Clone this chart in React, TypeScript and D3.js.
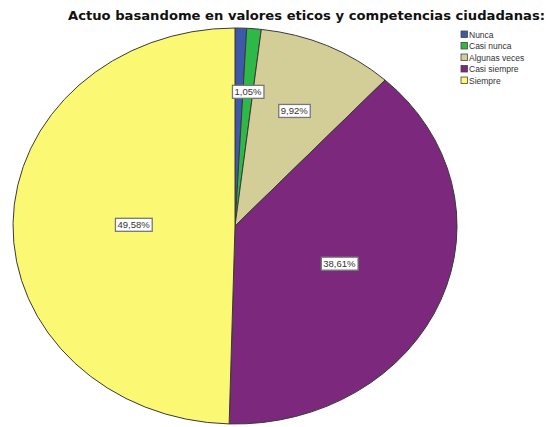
import React, { useEffect, useRef } from 'react';
import * as d3 from 'd3';

const categories = ['Nunca', 'Casi nunca', 'Algunas veces', 'Casi siempre', 'Siempre'];
const percents = [0.84, 1.05, 9.92, 38.61, 49.58];
const labels = ['', '1,05%', '9,92%', '38,61%', '49,58%'];
const colors = ['#3E58AC', '#2EB848', '#D3CE97', '#7C287D', '#FBF873'];
const title = 'Actuo basandome en valores eticos y competencias ciudadanas:';

const W = 548;
const H = 427;

export default function App() {
  const svgRef = useRef<SVGSVGElement>(null);

  useEffect(() => {
    const svg = d3.select(svgRef.current);
    svg.selectAll('*').remove();

    // pie is stretched horizontally in the original export
    const cx = 235;
    const cy = 226;
    const ry = 198;
    const rx = 222;

    const data = categories.map((c, i) => ({ name: c, value: percents[i], label: labels[i], color: colors[i] }));

    const pie = d3
      .pie<any>()
      .value((d) => d.value)
      .sort(null)
      .startAngle(0)
      .endAngle(2 * Math.PI);

    const arc = d3.arc<any>().innerRadius(0).outerRadius(ry);
    const arcs = pie(data);

    const g = svg
      .append('g')
      .attr('transform', `translate(${cx},${cy}) scale(${rx / ry},1)`);

    g.selectAll('path')
      .data(arcs)
      .enter()
      .append('path')
      .attr('d', arc)
      .attr('fill', (d) => d.data.color)
      .attr('stroke', '#3a3a3a')
      .attr('stroke-width', 1)
      .attr('vector-effect', 'non-scaling-stroke');

    // labels, bigger slices get their label pulled toward the centre
    const lg = svg.append('g').attr('transform', `translate(${cx},${cy})`);
    arcs.forEach((a) => {
      if (!a.data.label) return;
      const mid = (a.startAngle + a.endAngle) / 2;
      const f = 0.685 - 0.46 * (a.data.value / 100);
      const x = Math.sin(mid) * rx * f;
      const y = -Math.cos(mid) * ry * f;
      const t = lg
        .append('text')
        .attr('x', x)
        .attr('y', y)
        .attr('text-anchor', 'middle')
        .attr('dominant-baseline', 'central')
        .attr('font-family', 'Liberation Sans, Arial, sans-serif')
        .attr('font-size', 9.5)
        .attr('fill', '#333')
        .text(a.data.label);
      const bb = (t.node() as SVGTextElement).getBBox();
      lg.insert('rect', 'text')
        .attr('x', bb.x - 2)
        .attr('y', bb.y - 1)
        .attr('width', bb.width + 4)
        .attr('height', bb.height + 2)
        .attr('fill', '#fff')
        .attr('stroke', '#777')
        .attr('stroke-width', 1.3);
    });

    // title
    svg
      .append('text')
      .attr('x', 68)
      .attr('y', 20)
      .attr('font-family', 'DejaVu Sans, Verdana, sans-serif')
      .attr('font-weight', 'bold')
      .attr('font-size', 12.5)
      .attr('textLength', 477)
      .attr('lengthAdjust', 'spacingAndGlyphs')
      .attr('fill', '#111')
      .text(title);

    // legend
    const leg = svg.append('g').attr('transform', 'translate(461,31)');
    const item = leg
      .selectAll('g')
      .data(data)
      .enter()
      .append('g')
      .attr('transform', (d, i) => `translate(0,${i * 11.5})`);
    item
      .append('rect')
      .attr('width', 6.5)
      .attr('height', 6.5)
      .attr('fill', (d) => d.color)
      .attr('stroke', '#444')
      .attr('stroke-width', 0.8);
    item
      .append('text')
      .attr('x', 8)
      .attr('y', 3.5)
      .attr('dominant-baseline', 'central')
      .attr('font-family', 'Liberation Sans, Arial, sans-serif')
      .attr('font-size', 8.5)
      .attr('fill', '#333')
      .text((d) => d.name);
  }, []);

  return (
    <div style={{ position: 'absolute', left: 0, top: 0 }}>
      <svg ref={svgRef} width={W} height={H} style={{ display: 'block', background: '#fff' }}></svg>
    </div>
  );
}
